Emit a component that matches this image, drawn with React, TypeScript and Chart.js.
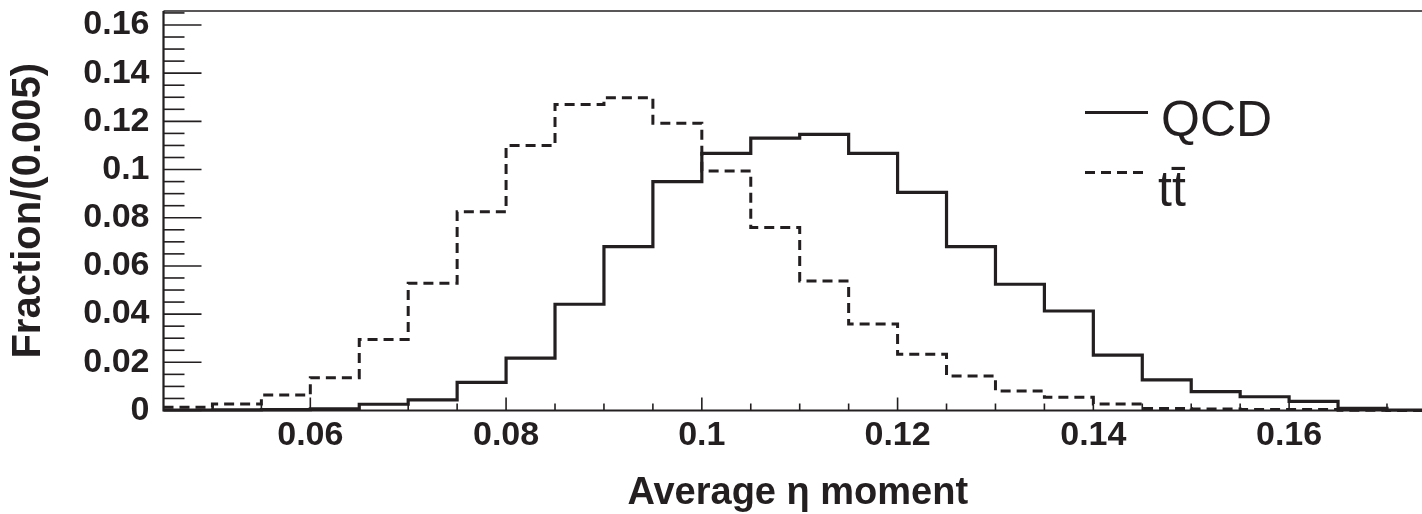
import React, { useEffect, useRef } from 'react';
import { Chart, registerables } from 'chart.js';

Chart.register(...registerables);

// ---- data ----
const BIN_LOW_EDGES = [
  0.045, 0.05, 0.055, 0.06, 0.065, 0.07, 0.075, 0.08, 0.085, 0.09, 0.095, 0.1, 0.105,
  0.11, 0.115, 0.12, 0.125, 0.13, 0.135, 0.14, 0.145, 0.15, 0.155, 0.16, 0.165, 0.17,
];
const LAST_BIN_HIGH_EDGE = 0.175;

const QCD_VALUES = [
  0.0002, 0.0003, 0.0004, 0.0007, 0.0026, 0.0044, 0.0117, 0.0217, 0.0441, 0.068, 0.095, 0.1067, 0.113,
  0.1146, 0.1067, 0.0905, 0.068, 0.0524, 0.0413, 0.023, 0.0127, 0.0078, 0.0057, 0.0038, 0.0009, 0.0002,
];
const TTBAR_VALUES = [
  0.0013, 0.0027, 0.0064, 0.0136, 0.0295, 0.0528, 0.0825, 0.11, 0.127, 0.1298, 0.1192, 0.0994, 0.076,
  0.0537, 0.0359, 0.0233, 0.0143, 0.0081, 0.0055, 0.0027, 0.0008, 0.0006, 0.0004, 0.0004, 0.0001, 0,
];

const SERIES_LABELS = ['QCD', 't\u0074\u0304'];

const X_TICKS = [0.06, 0.08, 0.1, 0.12, 0.14, 0.16];
const X_TICK_LABELS = ['0.06', '0.08', '0.1', '0.12', '0.14', '0.16'];
const Y_TICKS = [0, 0.02, 0.04, 0.06, 0.08, 0.1, 0.12, 0.14, 0.16];
const Y_TICK_LABELS = ['0', '0.02', '0.04', '0.06', '0.08', '0.1', '0.12', '0.14', '0.16'];

const X_TITLE = 'Average \u03b7 moment';
const Y_TITLE = 'Fraction/(0.005)';

// ---- style / layout ----
const X_MIN = 0.045;
const X_MAX = 0.1746;
const Y_MIN = 0;
const Y_MAX = 0.1658;
const INK = '#231f20';
const FONT = "'Liberation Sans', Arial, Helvetica, sans-serif";
const CANVAS_W = 1432;
const CANVAS_H = 514;

function stepPoints(values: number[]) {
  const pts = BIN_LOW_EDGES.map((x, i) => ({ x, y: values[i] }));
  pts.push({ x: LAST_BIN_HIGH_EDGE, y: values[values.length - 1] });
  return pts;
}

function zeroPadding(s: any) {
  s.paddingTop = 0;
  s.paddingBottom = 0;
  s.paddingLeft = 0;
  s.paddingRight = 0;
}

const frameAndTicks = {
  id: 'frameAndTicks',
  afterDatasetsDraw(chart: any) {
    const { ctx, chartArea, scales } = chart;
    const { left, right, top, bottom } = chartArea;
    const xs = scales.x;
    const ys = scales.y;
    ctx.save();
    ctx.strokeStyle = INK;
    ctx.lineCap = 'butt';
    ctx.lineWidth = 1.6;
    for (let k = 0; k < 40; k++) {
      const v = k * 0.005;
      if (v > ys.max + 1e-9) break;
      const py = ys.getPixelForValue(v);
      const major = k % 4 === 0;
      ctx.beginPath();
      ctx.moveTo(left, py);
      ctx.lineTo(left + (major ? 38 : 21), py);
      ctx.stroke();
    }
    for (let k = 1; k < 40; k++) {
      const v = X_MIN + k * 0.005;
      if (v > xs.max + 1e-9) break;
      const px = xs.getPixelForValue(v);
      const r = v / 0.02;
      const major = Math.abs(r - Math.round(r)) < 1e-6;
      ctx.beginPath();
      ctx.moveTo(px, bottom);
      ctx.lineTo(px, bottom - (major ? 13 : 7));
      ctx.stroke();
    }
    ctx.lineWidth = 2.2;
    ctx.beginPath();
    ctx.moveTo(left, top);
    ctx.lineTo(left, bottom);
    ctx.lineTo(right, bottom);
    ctx.stroke();
    ctx.lineWidth = 1.6;
    ctx.beginPath();
    ctx.moveTo(left, top);
    ctx.lineTo(right, top);
    ctx.stroke();
    ctx.restore();
  },
};

const legendPlugin = {
  id: 'customLegend',
  afterDraw(chart: any) {
    const { ctx } = chart;
    const rows = [
      { y: 112.5, textY: 136, textX: 1161 },
      { y: 172.5, textY: 206, textX: 1158 },
    ];
    ctx.save();
    chart.data.datasets.forEach((ds: any, i: number) => {
      const r = rows[i];
      ctx.strokeStyle = ds.borderColor;
      ctx.lineWidth = 3;
      ctx.setLineDash(ds.borderDash || []);
      ctx.beginPath();
      ctx.moveTo(1085, r.y);
      ctx.lineTo(1148, r.y);
      ctx.stroke();
      ctx.setLineDash([]);
      ctx.fillStyle = INK;
      ctx.font = `normal 50px ${FONT}`;
      ctx.textAlign = 'left';
      ctx.textBaseline = 'alphabetic';
      ctx.fillText(ds.label, r.textX, r.textY);
    });
    ctx.restore();
  },
};

export default function App() {
  const canvasRef = useRef<HTMLCanvasElement | null>(null);

  useEffect(() => {
    document.body.style.margin = '0';
    const canvas = canvasRef.current;
    if (!canvas) return;
    const chart = new Chart(canvas, {
      type: 'line',
      data: {
        datasets: [
          {
            label: SERIES_LABELS[0],
            data: stepPoints(QCD_VALUES),
            borderColor: INK,
            borderWidth: 3.2,
            stepped: 'before',
            pointRadius: 0,
            fill: false,
            clip: false,
          } as any,
          {
            label: SERIES_LABELS[1],
            data: stepPoints(TTBAR_VALUES),
            borderColor: INK,
            borderWidth: 3,
            borderDash: [10, 6],
            stepped: 'before',
            pointRadius: 0,
            fill: false,
            clip: false,
          } as any,
        ],
      },
      options: {
        responsive: false,
        animation: false,
        devicePixelRatio: 1,
        layout: { padding: { top: 11, left: 0, right: 0, bottom: 0 } },
        plugins: {
          legend: { display: false },
          tooltip: { enabled: false },
        },
        scales: {
          x: {
            type: 'linear',
            min: X_MIN,
            max: X_MAX,
            afterBuildTicks: (s: any) => {
              s.ticks = X_TICKS.map((v) => ({ value: v }));
            },
            afterFit: (s: any) => {
              s.height = 103.5;
              zeroPadding(s);
            },
            grid: { display: false, drawTicks: false },
            border: { display: false },
            ticks: {
              autoSkip: false,
              maxRotation: 0,
              padding: 5,
              color: INK,
              font: { family: FONT, size: 34, weight: 'bold' },
              callback: (v: any) => {
                const i = X_TICKS.findIndex((t) => Math.abs(t - v) < 1e-9);
                return i >= 0 ? X_TICK_LABELS[i] : '';
              },
            },
            title: {
              display: true,
              text: X_TITLE,
              color: INK,
              font: { family: FONT, size: 38, weight: 'bold', lineHeight: 1 },
              padding: { top: 0, bottom: 1 },
            },
          },
          y: {
            type: 'linear',
            min: Y_MIN,
            max: Y_MAX,
            afterBuildTicks: (s: any) => {
              s.ticks = Y_TICKS.map((v) => ({ value: v }));
            },
            afterFit: (s: any) => {
              s.width = 163.5;
              zeroPadding(s);
            },
            grid: { display: false, drawTicks: false },
            border: { display: false },
            ticks: {
              autoSkip: false,
              padding: 14,
              color: INK,
              font: { family: FONT, size: 34, weight: 'bold' },
              callback: (v: any) => {
                const i = Y_TICKS.findIndex((t) => Math.abs(t - v) < 1e-9);
                return i >= 0 ? Y_TICK_LABELS[i] : '';
              },
            },
            title: {
              display: true,
              text: Y_TITLE,
              color: INK,
              font: { family: FONT, size: 40, weight: 'bold', lineHeight: 1 },
              padding: { top: 9, bottom: 0 },
            },
          },
        },
      } as any,
      plugins: [frameAndTicks, legendPlugin],
    });
    return () => chart.destroy();
  }, []);

  return (
    <div
      style={{
        position: 'fixed',
        left: 0,
        top: 0,
        width: 1422,
        height: 514,
        overflow: 'hidden',
        background: '#ffffff',
      }}
    >
      <canvas
        ref={canvasRef}
        width={CANVAS_W}
        height={CANVAS_H}
        style={{ width: CANVAS_W, height: CANVAS_H, display: 'block' }}
      />
    </div>
  );
}
